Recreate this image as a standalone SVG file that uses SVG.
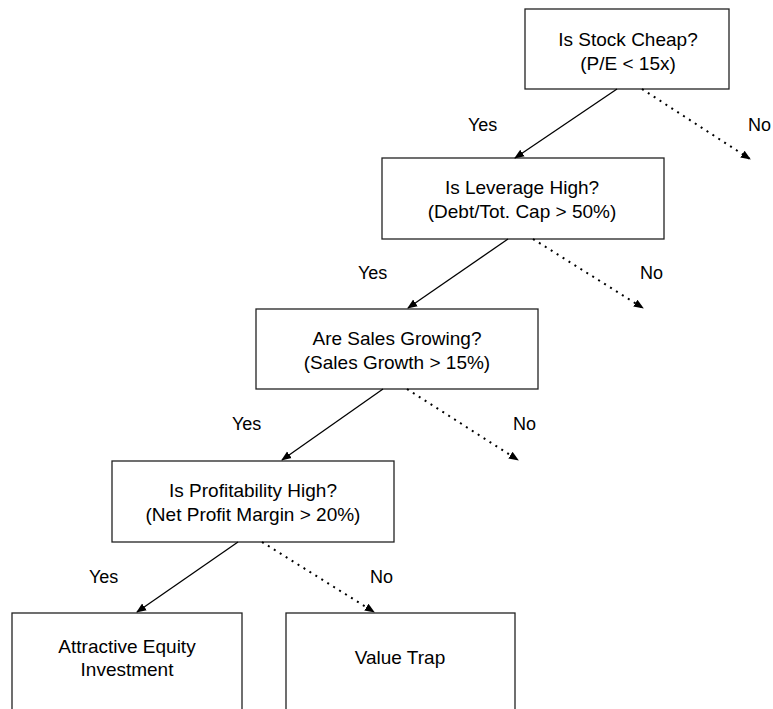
<svg xmlns="http://www.w3.org/2000/svg" width="773" height="709" viewBox="0 0 773 709">
<defs>
<style>
.box{fill:#fff;stroke:#222;stroke-width:1.3}
.t{font-family:"Liberation Sans",Arial,sans-serif;font-size:19px;fill:#000;text-anchor:middle}
.l{font-family:"Liberation Sans",Arial,sans-serif;font-size:18px;fill:#000}
.yes{stroke:#000;stroke-width:1.3;fill:none;marker-end:url(#ah)}
.no{stroke:#000;stroke-width:2;fill:none;stroke-dasharray:2,5;marker-end:url(#ah)}
</style>
<marker id="ah" viewBox="0 0 10 10" refX="9" refY="5" markerWidth="10" markerHeight="10" markerUnits="userSpaceOnUse" orient="auto">
<path d="M0,1 L10,5 L0,9 Z" fill="#000"/>
</marker>
</defs>
<rect width="773" height="709" fill="#fff"/>
<g id="n1"><rect class="box" x="525" y="9" width="204" height="80"/><text class="t" x="628" y="46">Is Stock Cheap?</text><text class="t" x="628" y="70">(P/E &lt; 15x)</text></g>
<g id="n2"><rect class="box" x="382" y="158" width="282" height="81"/><text class="t" x="522" y="194">Is Leverage High?</text><text class="t" x="522" y="218">(Debt/Tot. Cap &gt; 50%)</text></g>
<g id="n3"><rect class="box" x="256" y="309" width="282" height="80"/><text class="t" x="397" y="345">Are Sales Growing?</text><text class="t" x="397" y="369">(Sales Growth &gt; 15%)</text></g>
<g id="n4"><rect class="box" x="112" y="461" width="282" height="81"/><text class="t" x="253" y="497">Is Profitability High?</text><text class="t" x="253" y="521">(Net Profit Margin &gt; 20%)</text></g>
<g id="n5"><rect class="box" x="12" y="613" width="230" height="110"/><text class="t" x="127" y="653">Attractive Equity</text><text class="t" x="127" y="676">Investment</text></g>
<g id="n6"><rect class="box" x="286" y="613" width="229" height="110"/><text class="t" x="400" y="664">Value Trap</text></g>
<g id="edges">
<line class="yes" x1="617" y1="89" x2="515" y2="158"/>
<line class="no" x1="642" y1="89" x2="750" y2="159"/>
<line class="yes" x1="508" y1="239" x2="408" y2="308"/>
<line class="no" x1="533" y1="239" x2="643" y2="308"/>
<line class="yes" x1="383" y1="389" x2="282" y2="460"/>
<line class="no" x1="407" y1="389" x2="518" y2="460"/>
<line class="yes" x1="238" y1="542" x2="137" y2="612"/>
<line class="no" x1="262" y1="542" x2="374" y2="612"/>
<text class="l" x="468" y="131">Yes</text>
<text class="l" x="748" y="131">No</text>
<text class="l" x="358" y="279">Yes</text>
<text class="l" x="640" y="279">No</text>
<text class="l" x="232" y="430">Yes</text>
<text class="l" x="513" y="430">No</text>
<text class="l" x="89" y="583">Yes</text>
<text class="l" x="370" y="583">No</text>
</g>
</svg>
